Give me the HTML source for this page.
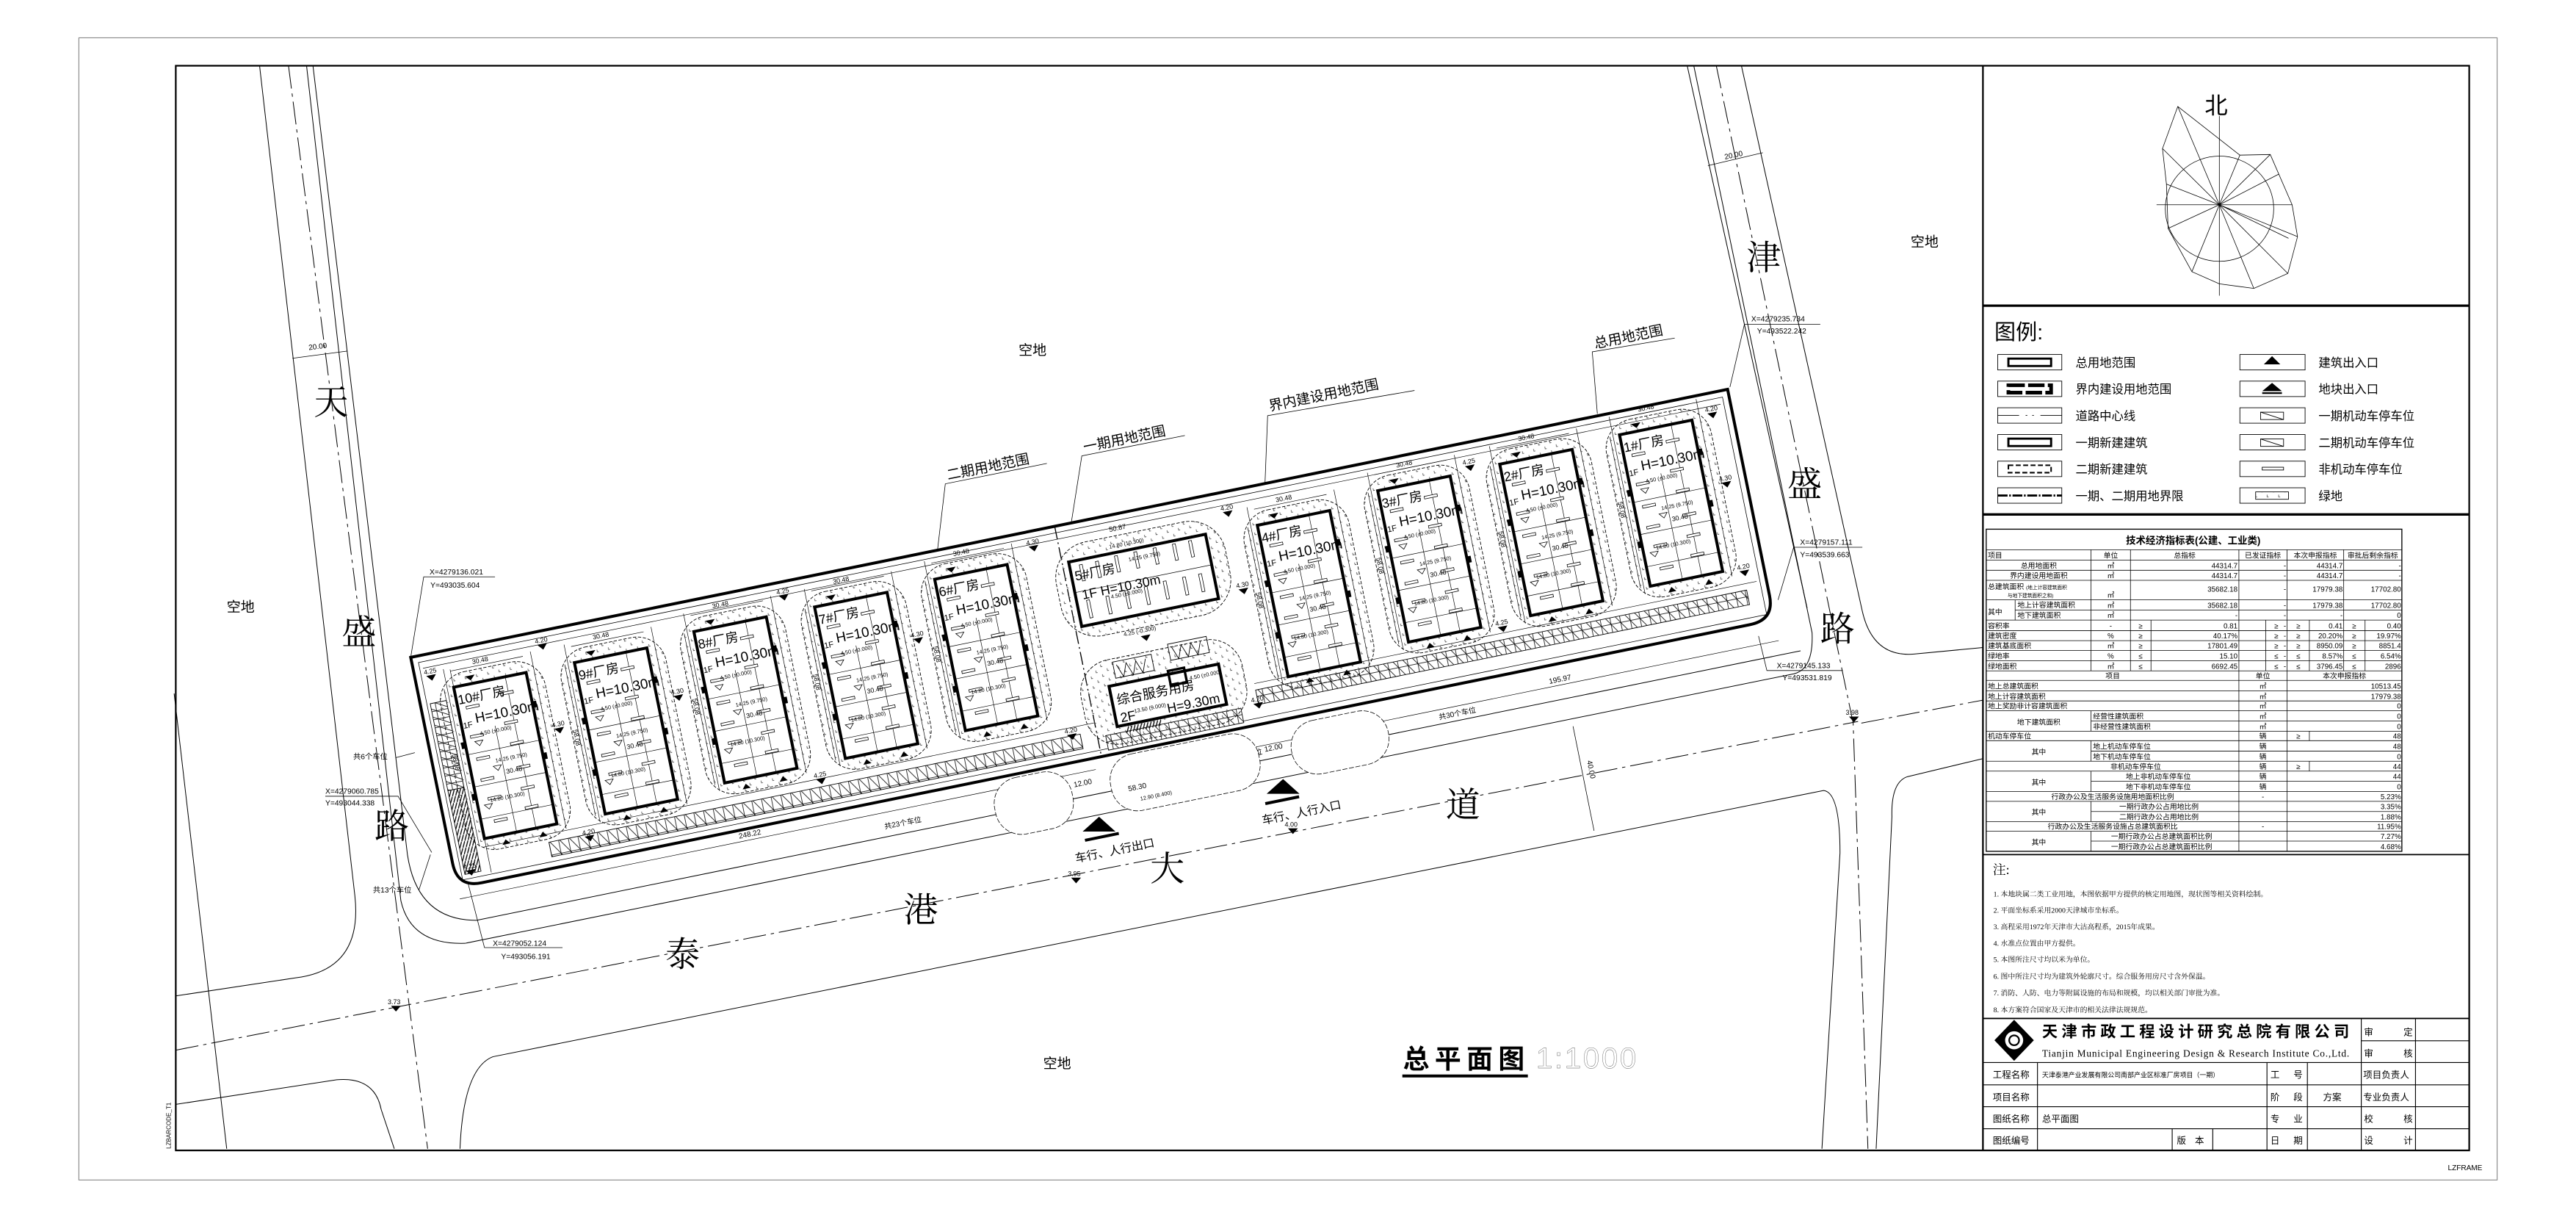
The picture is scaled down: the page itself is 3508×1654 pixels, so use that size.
<!DOCTYPE html>
<html><head><meta charset="utf-8"><style>
html,body{margin:0;padding:0;background:#fff;}
svg{display:block}
text{font-family:"Liberation Sans","Noto Sans CJK SC",sans-serif;fill:#000}
.s{font-family:"Liberation Serif","Noto Serif CJK SC",serif}
</style></head><body>
<svg xmlns="http://www.w3.org/2000/svg" width="3508" height="1654" viewBox="0 0 1568 739.3">
<defs>
<pattern id="grn" width="7" height="6" patternUnits="userSpaceOnUse">
<path d="M1,1 l0,1.4 l0.9,0 M4.5,4 l0,1.3 l0.9,0" stroke="#444" stroke-width="0.35" fill="none"/>
</pattern>
<pattern id="park" width="6" height="9" patternUnits="userSpaceOnUse">
<rect x="0" y="0" width="6" height="9" fill="#fff" stroke="#000" stroke-width="0.35"/>
<path d="M0,0 L6,9" stroke="#000" stroke-width="0.35"/>
</pattern>
<pattern id="parkv" width="9" height="5" patternUnits="userSpaceOnUse">
<rect x="0" y="0" width="9" height="5" fill="#fff" stroke="#000" stroke-width="0.35"/>
<path d="M0,0 L9,5" stroke="#000" stroke-width="0.35"/>
</pattern>
<pattern id="hat" width="2" height="4" patternUnits="userSpaceOnUse">
<path d="M0,4 L2,0" stroke="#000" stroke-width="0.6"/>
</pattern>
<g id="bld">
<rect x="-10" y="-8" width="65" height="110" rx="18" fill="url(#grn)" stroke="#000" stroke-width="0.4" stroke-dasharray="2 1"/>
<rect x="0" y="0" width="45" height="94" fill="#fff" stroke="none"/>
<g stroke="#000" stroke-width="0.3" fill="none">
<line x1="20" y1="28" x2="20" y2="94"/><line x1="32" y1="0" x2="32" y2="94"/>
<line x1="0" y1="42" x2="45" y2="42"/><line x1="0" y1="62" x2="45" y2="62"/><line x1="0" y1="82" x2="45" y2="82"/>
<line x1="0" y1="-10" x2="45" y2="-10"/><line x1="-6" y1="0" x2="-6" y2="94"/>
<line x1="-4" y1="-12" x2="-4" y2="98"/><line x1="50" y1="-12" x2="50" y2="98"/>
</g>
<g fill="#fff" stroke="#000" stroke-width="0.35">
<rect x="5" y="13" width="8" height="1.6"/><rect x="27" y="9" width="8" height="1.6"/>
<rect x="4" y="31" width="8" height="1.6"/><rect x="26" y="27" width="8" height="1.6"/>
<rect x="5" y="45" width="8" height="1.6"/><rect x="27" y="40" width="8" height="1.6"/>
<rect x="5" y="58" width="8" height="1.6"/><rect x="28" y="55" width="8" height="1.6"/>
<rect x="7" y="70" width="8" height="1.6"/><rect x="28" y="68" width="8" height="1.6"/>
<rect x="8" y="84" width="8" height="1.6"/><rect x="28" y="80" width="8" height="1.6"/>
</g>
<rect x="0" y="0" width="45" height="94" fill="none" stroke="#000" stroke-width="1.8"/>
<g fill="#000">
<path d="M8,-5 l6,0 l-3,3z"/><path d="M10,100 l5,0 l-2.5,-3z"/><path d="M33,100 l5,0 l-2.5,-3z"/>
<rect x="-2.5" y="34" width="2.5" height="4"/><rect x="45" y="50" width="2.5" height="4"/><rect x="-2.5" y="66" width="2.5" height="4"/><rect x="45" y="18" width="2.5" height="4"/>
</g>
<g fill="none" stroke="#000" stroke-width="0.35"><path d="M6,35 l5,0 l-2.5,3z M14,52 l5,0 l-2.5,3z M4,74 l5,0 l-2.5,3z"/></g>
</g>
<g id="elv"><path d="M-3,0 l6,0 l-3,3.5z" fill="#000"/></g>
</defs>

<rect x="48" y="23" width="1472" height="695" fill="none" stroke="#888" stroke-width="0.5"/>
<rect x="107" y="40" width="1396" height="660" fill="none" stroke="#000" stroke-width="1"/>
<line x1="1207" y1="40" x2="1207" y2="700" stroke="#000" stroke-width="1"/>
<text x="0" y="0" font-size="3.6" transform="translate(104,699) rotate(-90)">LZBARCODE_T1</text>
<text x="1490" y="712" font-size="4.5">LZFRAME</text>

<g fill="none" stroke="#000" stroke-width="0.45">
<path d="M158,40 L216,545 Q221,590 180,595 L107,606"/>
<path d="M175.6,40 L260.3,699" stroke-dasharray="14 3 2 3"/>
<path d="M186.6,40 L244,548 Q250,575 283,574 L1092,410 Q1104,407 1103,385 L1031,40"/>
<path d="M190.5,40 L248,520 Q254,560 290,560 L1096,396"/>
<path d="M106,422 L138,699"/>
<path d="M107,672 L205,657 Q228,655 232,675 L240,699"/>
<path d="M107,639 L1131,439" stroke-dasharray="14 3 2 3"/>
<path d="M1133,440 L1207,426" stroke-dasharray="14 3 2 3"/>
<path d="M280,699 Q282,650 300,643 L1110,481 Q1120,482 1120,519 L1109,699"/>
<path d="M1027,40 L1100,370"/>
<path d="M1044.7,40 L1128,440 L1137,699" stroke-dasharray="14 3 2 3"/>
<path d="M1060,40 L1133.6,372 Q1140,400 1165,398 L1207,394"/>
<path d="M1207,461.6 L1161,472.6 Q1151,476 1151.6,497 L1142,699"/>
</g>
<g stroke="#000" stroke-width="0.35">
<line x1="178" y1="218" x2="211.5" y2="213.6"/><line x1="1039.6" y1="100.8" x2="1073" y2="92.9"/>
<line x1="957.5" y1="441.9" x2="970.3" y2="505.5"/>
</g>
<text font-size="4.5" transform="translate(188,213) rotate(-7)">20.00</text>
<text font-size="4.5" transform="translate(1050,97) rotate(-12)">20.00</text>
<text font-size="4.5" transform="translate(966,463) rotate(78.5)">40.00</text>
<use href="#elv" x="241" y="612"/><text x="236" y="611" font-size="4">3.73</text>
<use href="#elv" x="1128.5" y="436"/><text x="1123.5" y="435" font-size="4">3.98</text>

<g class="s" font-size="21">
<text class="s" x="191" y="252">天</text><text class="s" x="208" y="392">盛</text><text class="s" x="228" y="510">路</text>
<text class="s" x="1063" y="164">津</text><text class="s" x="1088" y="302">盛</text><text class="s" x="1108" y="390">路</text>
<text class="s" x="405" y="588">泰</text><text class="s" x="550" y="561">港</text><text class="s" x="700" y="536">大</text><text class="s" x="880" y="497">道</text>
</g>
<g font-size="8.5">
<text x="138" y="372">空地</text><text x="620" y="216">空地</text><text x="1163" y="150">空地</text><text x="635" y="650">空地</text>
</g>

<g transform="translate(250,400) rotate(-11.5)">
<path d="M0,0 L818,0 L818,128 Q818,143 803,143 L15,143 Q0,143 0,128 Z" fill="none" stroke="#000" stroke-width="1.8"/>
<path d="M4,4 L814,4 L814,139 L4,139 Z" fill="none" stroke="#000" stroke-width="0.35"/>
<line x1="400" y1="0" x2="400" y2="143" stroke="#000" stroke-width="0.6" stroke-dasharray="8 2 1 2"/>
<g stroke="#000" stroke-width="0.3">
<line x1="6" y1="8" x2="812" y2="8"/><line x1="20" y1="122" x2="400" y2="122"/><line x1="500" y1="118" x2="812" y2="118"/>
<line x1="0" y1="150" x2="395" y2="150"/><line x1="405" y1="156" x2="818" y2="156"/>
<line x1="22" y1="12" x2="22" y2="138"/>
</g>
<rect x="6" y="30" width="10" height="54" fill="url(#parkv)" stroke="#000" stroke-width="0.4"/>
<rect x="6" y="84" width="10" height="52" fill="url(#hat)" stroke="#000" stroke-width="0.4"/>
<rect x="60" y="127" width="330" height="9" fill="url(#park)" stroke="#000" stroke-width="0.4"/>
<rect x="405" y="131" width="84" height="9" fill="url(#park)" stroke="#000" stroke-width="0.4"/>
<rect x="500" y="122" width="305" height="9" fill="url(#park)" stroke="#000" stroke-width="0.4"/>

<g font-size="4">
<g transform="translate(22,23)"><use href="#bld"/><text x="1" y="11" font-size="8">10#厂房</text><text x="1" y="26" font-size="5">1F</text><text x="9" y="24" font-size="8.5">H=10.30m</text><text x="10" y="32" font-size="3.3">4.50 (±0.000)</text><text x="16" y="50" font-size="3.3">14.25 (9.750)</text><text x="21" y="58" font-size="4">30.48</text><text x="8" y="73" font-size="3.3">14.80 (10.300)</text><text x="14" y="-11.5">30.48</text><text transform="translate(-9,40) rotate(90)">58.08</text></g>
<g transform="translate(97,23)"><use href="#bld"/><text x="1" y="11" font-size="8">9#厂房</text><text x="1" y="26" font-size="5">1F</text><text x="9" y="24" font-size="8.5">H=10.30m</text><text x="10" y="32" font-size="3.3">4.50 (±0.000)</text><text x="16" y="50" font-size="3.3">14.25 (9.750)</text><text x="21" y="58" font-size="4">30.48</text><text x="8" y="73" font-size="3.3">14.80 (10.300)</text><text x="14" y="-11.5">30.48</text><text transform="translate(-9,40) rotate(90)">58.08</text></g>
<g transform="translate(172,19)"><use href="#bld"/><text x="1" y="11" font-size="8">8#厂房</text><text x="1" y="26" font-size="5">1F</text><text x="9" y="24" font-size="8.5">H=10.30m</text><text x="10" y="32" font-size="3.3">4.50 (±0.000)</text><text x="16" y="50" font-size="3.3">14.25 (9.750)</text><text x="21" y="58" font-size="4">30.48</text><text x="8" y="73" font-size="3.3">14.80 (10.300)</text><text x="14" y="-11.5">30.48</text><text transform="translate(-9,40) rotate(90)">58.08</text></g>
<g transform="translate(247,19)"><use href="#bld"/><text x="1" y="11" font-size="8">7#厂房</text><text x="1" y="26" font-size="5">1F</text><text x="9" y="24" font-size="8.5">H=10.30m</text><text x="10" y="32" font-size="3.3">4.50 (±0.000)</text><text x="16" y="50" font-size="3.3">14.25 (9.750)</text><text x="21" y="58" font-size="4">30.48</text><text x="8" y="73" font-size="3.3">14.80 (10.300)</text><text x="14" y="-11.5">30.48</text><text transform="translate(-9,40) rotate(90)">58.08</text></g>
<g transform="translate(322,17)"><use href="#bld"/><text x="1" y="11" font-size="8">6#厂房</text><text x="1" y="26" font-size="5">1F</text><text x="9" y="24" font-size="8.5">H=10.30m</text><text x="10" y="32" font-size="3.3">4.50 (±0.000)</text><text x="16" y="50" font-size="3.3">14.25 (9.750)</text><text x="21" y="58" font-size="4">30.48</text><text x="8" y="73" font-size="3.3">14.80 (10.300)</text><text x="14" y="-11.5">30.48</text><text transform="translate(-9,40) rotate(90)">58.08</text></g>
<g transform="translate(521,24)"><use href="#bld"/><text x="1" y="11" font-size="8">4#厂房</text><text x="1" y="26" font-size="5">1F</text><text x="9" y="24" font-size="8.5">H=10.30m</text><text x="10" y="32" font-size="3.3">4.50 (±0.000)</text><text x="16" y="50" font-size="3.3">14.25 (9.750)</text><text x="21" y="58" font-size="4">30.48</text><text x="8" y="73" font-size="3.3">14.80 (10.300)</text><text x="14" y="-11.5">30.48</text><text transform="translate(-9,40) rotate(90)">58.08</text></g>
<g transform="translate(597,18)"><use href="#bld"/><text x="1" y="11" font-size="8">3#厂房</text><text x="1" y="26" font-size="5">1F</text><text x="9" y="24" font-size="8.5">H=10.30m</text><text x="10" y="32" font-size="3.3">4.50 (±0.000)</text><text x="16" y="50" font-size="3.3">14.25 (9.750)</text><text x="21" y="58" font-size="4">30.48</text><text x="8" y="73" font-size="3.3">14.80 (10.300)</text><text x="14" y="-11.5">30.48</text><text transform="translate(-9,40) rotate(90)">58.08</text></g>
<g transform="translate(673,17)"><use href="#bld"/><text x="1" y="11" font-size="8">2#厂房</text><text x="1" y="26" font-size="5">1F</text><text x="9" y="24" font-size="8.5">H=10.30m</text><text x="10" y="32" font-size="3.3">4.50 (±0.000)</text><text x="16" y="50" font-size="3.3">14.25 (9.750)</text><text x="21" y="58" font-size="4">30.48</text><text x="8" y="73" font-size="3.3">14.80 (10.300)</text><text x="14" y="-11.5">30.48</text><text transform="translate(-9,40) rotate(90)">58.08</text></g>
<g transform="translate(748,14)"><use href="#bld"/><text x="1" y="11" font-size="8">1#厂房</text><text x="1" y="26" font-size="5">1F</text><text x="9" y="24" font-size="8.5">H=10.30m</text><text x="10" y="32" font-size="3.3">4.50 (±0.000)</text><text x="16" y="50" font-size="3.3">14.25 (9.750)</text><text x="21" y="58" font-size="4">30.48</text><text x="8" y="73" font-size="3.3">14.80 (10.300)</text><text x="14" y="-11.5">30.48</text><text transform="translate(-9,40) rotate(90)">58.08</text></g>
</g>

<rect x="394" y="13" width="105" height="58" rx="22" fill="url(#grn)" stroke="#000" stroke-width="0.4" stroke-dasharray="2 1"/>
<rect x="404" y="23" width="85" height="40" fill="#fff"/>
<g fill="#fff" stroke="#000" stroke-width="0.35">
<rect x="410" y="26" width="1.8" height="10"/><rect x="420" y="26" width="1.8" height="10"/><rect x="432" y="25" width="1.8" height="10"/><rect x="444" y="25" width="1.8" height="10"/><rect x="456" y="25" width="1.8" height="10"/><rect x="468" y="25" width="1.8" height="10"/><rect x="478" y="25" width="1.8" height="10"/>
<rect x="410" y="48" width="1.8" height="11"/><rect x="422" y="48" width="1.8" height="11"/><rect x="434" y="47" width="1.8" height="11"/><rect x="446" y="47" width="1.8" height="11"/><rect x="458" y="46" width="1.8" height="11"/><rect x="470" y="46" width="1.8" height="11"/><rect x="480" y="46" width="1.8" height="11"/>
</g>
<line x1="404" y1="42" x2="489" y2="42" stroke="#000" stroke-width="0.3"/>
<rect x="404" y="23" width="85" height="40" fill="none" stroke="#000" stroke-width="1.8"/>
<text x="406" y="35" font-size="8">5#厂房</text><text x="408" y="47" font-size="8">1F H=10.30m</text>
<text x="440" y="30" font-size="3.3">14.25 (9.750)</text><text x="430" y="20" font-size="3.3">14.80 (10.300)</text><text x="425" y="50" font-size="3.3">4.50 (±0.000)</text>
<text x="432" y="10" font-size="4.2">50.87</text><text x="428" y="74" font-size="3.5">4.25 (-0.300)</text>
<use href="#elv" x="441" y="76"/>
<rect x="395" y="86" width="100" height="52" rx="20" fill="url(#grn)" stroke="#000" stroke-width="0.4" stroke-dasharray="2 1"/>
<g fill="none" stroke="#000" stroke-width="0.4"><path d="M420,90 l3,8 l3,-8 l3,8 l3,-8 l3,8 l3,-8 M455,86 l3,8 l3,-8 l3,8 l3,-8 l3,8 l3,-8"/><rect x="418" y="88" width="24" height="10"/><rect x="453" y="84" width="24" height="10"/></g>
<rect x="413" y="102" width="68" height="25" fill="#fff" stroke="#000" stroke-width="1.8"/>
<rect x="450" y="100" width="10" height="9" fill="none" stroke="#000" stroke-width="1.5"/>
<rect x="418" y="128" width="22" height="4" fill="url(#hat)"/>
<text x="416" y="114" font-size="8">综合服务用房</text><text x="416" y="125" font-size="8">2F</text><text x="445" y="125" font-size="8">H=9.30m</text>
<text x="462" y="108" font-size="3.3">4.50 (±0.000)</text><text x="425" y="121" font-size="3.3">13.50 (9.000)</text>

<g font-size="4">
<use href="#elv" x="10" y="13"/><text x="6" y="12">4.25</text>
<use href="#elv" x="80" y="8"/><text x="76" y="7">4.20</text>
<use href="#elv" x="10" y="134"/><text x="6" y="133">4.25</text>
<use href="#elv" x="85" y="128"/><text x="81" y="127">4.20</text>
<use href="#elv" x="80" y="60"/><text x="76" y="59">4.30</text>
<use href="#elv" x="155" y="55"/><text x="151" y="54">4.30</text>
<use href="#elv" x="230" y="8"/><text x="226" y="7">4.25</text>
<use href="#elv" x="230" y="122"/><text x="226" y="121">4.25</text>
<use href="#elv" x="305" y="50"/><text x="301" y="49">4.30</text>
<use href="#elv" x="385" y="9"/><text x="381" y="8">4.30</text>
<use href="#elv" x="385" y="126"/><text x="381" y="125">4.20</text>
<use href="#elv" x="505" y="12"/><text x="501" y="11">4.20</text>
<use href="#elv" x="505" y="60"/><text x="501" y="59">4.30</text>
<use href="#elv" x="500" y="130"/><text x="496" y="129">4.20</text>
<use href="#elv" x="655" y="14"/><text x="651" y="13">4.25</text>
<use href="#elv" x="655" y="114"/><text x="651" y="113">4.25</text>
<use href="#elv" x="806" y="12"/><text x="802" y="11">4.20</text>
<use href="#elv" x="806" y="55"/><text x="802" y="54">4.30</text>
<use href="#elv" x="806" y="110"/><text x="802" y="109">4.20</text>
</g>
<text x="174" y="148" font-size="4.5">248.22</text>
<text x="676" y="154" font-size="4.5">195.97</text>
<text x="262" y="160" font-size="4.5">共23个车位</text>
<text x="476" y="161" font-size="4.5">共8个车位</text>
<text x="606" y="162" font-size="4.5">共30个车位</text>
<text x="380" y="158" font-size="4.5">12.00</text>
<text x="498" y="160" font-size="4.5">12.00</text>
<g fill="#fff" stroke="#000" stroke-width="0.35" stroke-dasharray="3 1">
<rect x="330" y="145" width="48" height="35" rx="16"/><rect x="402" y="145" width="92" height="35" rx="16"/><rect x="514" y="147" width="60" height="33" rx="16"/>
</g>
<text x="412" y="167" font-size="4.5">58.30</text><text x="418" y="174" font-size="3.3">12.90 (8.400)</text>
<rect x="380" y="190" width="21" height="1.8" fill="#000"/>
<text x="372" y="203" font-size="7">车行、人行出口</text>
<rect x="492" y="190" width="21" height="1.8" fill="#000"/>
<text x="488" y="203" font-size="7">车行、人行入口</text>
</g>
<path d="M669,497 l-10,9 l20,0z" fill="#000"/>
<path d="M781,474 l-10,9 l20,0z" fill="#000"/>
<use href="#elv" x="655" y="534"/><text x="650" y="533" font-size="4">3.95</text>
<use href="#elv" x="787" y="504"/><text x="782" y="503" font-size="4">4.00</text>

<g fill="none" stroke="#000" stroke-width="0.35">
<path d="M570.7,334.3 L575.4,294.4 L637.2,282"/>
<path d="M652.2,317.3 L658.5,277.4 L721.2,265"/>
<path d="M770,294 L771.6,252.9 L861,237.6"/>
<path d="M972.3,251.8 L969.2,214.1 L1019.4,205.7"/>
<path d="M250,400 L257.9,351 L301.3,351"/>
<path d="M262.8,518.7 L242.3,484.5 L198,484.5"/>
<path d="M284.6,536.3 L294.9,576.6 L342.4,576.6"/>
<path d="M1053,235.5 L1061.8,197.4 L1108,197.4"/>
<path d="M1082.3,365 L1091.8,333 L1133.6,333"/>
<path d="M1070.4,387 L1075.5,408 L1121.7,408"/>
<path d="M252.5,458 L241,461"/><path d="M262,520 L255,541.5"/>
</g>
<g font-size="8.5">
<text transform="translate(577,292) rotate(-11.5)">二期用地范围</text>
<text transform="translate(660,275) rotate(-11.5)">一期用地范围</text>
<text transform="translate(773,250) rotate(-11.5)">界内建设用地范围</text>
<text transform="translate(971,212) rotate(-11.5)">总用地范围</text>
</g>
<g font-size="4.6">
<text x="261.5" y="349.5">X=4279136.021</text><text x="262" y="357.5">Y=493035.604</text>
<text x="198" y="483">X=4279060.785</text><text x="198" y="490">Y=493044.338</text>
<text x="300" y="575.5">X=4279052.124</text><text x="305" y="583.5">Y=493056.191</text>
<text x="1066" y="195.5">X=4279235.734</text><text x="1069.5" y="203">Y=493522.242</text>
<text x="1095.7" y="331.5">X=4279157.111</text><text x="1095.7" y="339">Y=493539.663</text>
<text x="1081.5" y="406.5">X=4279145.133</text><text x="1085" y="414">Y=493531.819</text>
<text x="215" y="462">共6个车位</text><text x="227" y="543">共13个车位</text>
</g>

<text x="854" y="650" font-size="16" textLength="74" font-weight="bold">总平面图</text>
<rect x="853.6" y="653.8" width="76.4" height="1.8" fill="#000"/>
<text x="935" y="650" font-size="18" fill="none" stroke="#555" stroke-width="0.18" textLength="61" style="fill:none">1:1000</text>

<g fill="none" stroke="#000" stroke-width="0.35">
<polygon points="1325.6,64.8 1363.4,94.4 1381.9,94 1395.2,124.6 1398.5,144 1392.6,166.4 1371.9,175.5 1350.9,172.7 1334.2,165.3 1319.7,139 1318.7,112 1316.3,90.4"/>
<ellipse cx="1351" cy="127" rx="33" ry="32"/>
<line x1="1350.9" y1="70.6" x2="1350.9" y2="179.9"/><line x1="1312.7" y1="124.6" x2="1395.2" y2="124.6"/>
<path d="M1350.9,124.6 L1325.6,64.8 M1350.9,124.6 L1363.4,94.4 M1350.9,124.6 L1381.9,94 M1350.9,124.6 L1398.5,144 M1350.9,124.6 L1392.6,166.4 M1350.9,124.6 L1371.9,175.5 M1350.9,124.6 L1334.2,165.3 M1350.9,124.6 L1319.7,139 M1350.9,124.6 L1318.7,112 M1350.9,124.6 L1316.3,90.4 M1350.9,124.6 L1387,106 M1350.9,124.6 L1393,145"/>
</g>
<text x="1342" y="69" font-size="14">北</text>
<line x1="1207" y1="186" x2="1503" y2="186" stroke="#000" stroke-width="1.5"/>

<text x="1214" y="206.5" font-size="13">图例:</text>
<g fill="none" stroke="#000" stroke-width="0.4">
<rect x="1216" y="215.7" width="39" height="9.4"/><rect x="1216" y="231.9" width="39" height="9.4"/><rect x="1216" y="248.1" width="39" height="9.4"/><rect x="1216" y="264.4" width="39" height="9.4"/><rect x="1216" y="280.6" width="39" height="9.4"/><rect x="1216" y="296.8" width="39" height="9.4"/>
<rect x="1363.4" y="215.7" width="39.7" height="9.4"/><rect x="1363.4" y="231.9" width="39.7" height="9.4"/><rect x="1363.4" y="248.1" width="39.7" height="9.4"/><rect x="1363.4" y="264.4" width="39.7" height="9.4"/><rect x="1363.4" y="280.6" width="39.7" height="9.4"/><rect x="1363.4" y="296.8" width="39.7" height="9.4"/>
<rect x="1222.5" y="218.2" width="26" height="4.5" stroke-width="1.3"/>
<rect x="1222.5" y="234.4" width="26" height="4.5" stroke-width="2.2" stroke-dasharray="10 2"/>
<path d="M1216,252.8 h13 M1233,252.8 h1 M1237,252.8 h1 M1242,252.8 h13"/>
<rect x="1222.5" y="266.9" width="26" height="4.5" stroke-width="1.3"/>
<rect x="1222.5" y="283.1" width="26" height="4.5" stroke-width="0.9" stroke-dasharray="3 1.5"/>
<path d="M1216,301.5 h39" stroke-width="1.3" stroke-dasharray="6 1 1 1"/>
<rect x="1376" y="250.8" width="14" height="4.5"/><path d="M1376,250.8 L1390,255.3"/>
<rect x="1376" y="267.1" width="14" height="4.5"/><path d="M1376,267.1 L1390,271.6"/>
<rect x="1377" y="284.3" width="13" height="1.7"/>
<rect x="1373" y="299.3" width="20" height="4.5" fill="url(#grn)"/>
</g>
<path d="M1383,216.7 l-5,5 l10,0z M1383,233 l-6,5 l12,0z" fill="#000"/>
<rect x="1377" y="238.7" width="12" height="1" fill="#000"/>
<g font-size="7.3" fill="#222">
<text x="1263.4" y="223.2">总用地范围</text><text x="1263.4" y="239.4">界内建设用地范围</text><text x="1263.4" y="255.6">道路中心线</text><text x="1263.4" y="271.9">一期新建建筑</text><text x="1263.4" y="288.1">二期新建建筑</text><text x="1263.4" y="304.3">一期、二期用地界限</text>
<text x="1411.3" y="223.2">建筑出入口</text><text x="1411.3" y="239.4">地块出入口</text><text x="1411.3" y="255.6">一期机动车停车位</text><text x="1411.3" y="271.9">二期机动车停车位</text><text x="1411.3" y="288.1">非机动车停车位</text><text x="1411.3" y="304.3">绿地</text>
</g>
<line x1="1207" y1="313" x2="1503" y2="313" stroke="#000" stroke-width="1.5"/>

<g stroke="#000" stroke-width="0.35" fill="none">
<rect x="1209" y="322" width="253" height="196" stroke-width="0.6"/>
<path d="M1209,334.5 H1462 M1209,340.8 H1462 M1209,347 H1462 M1209,353.1 H1462 M1209,365 H1462 M1226.6,371.2 H1462 M1209,377.3 H1462 M1209,383.7 H1462 M1209,389.8 H1462 M1209,395.8 H1462 M1209,402 H1462 M1209,408.2 H1462 M1209,414 H1462 M1209,420.4 H1462 M1209,426.5 H1462 M1209,432.5 H1462 M1272.8,438.7 H1462 M1209,444.9 H1462 M1209,450.7 H1462 M1272.8,457 H1462 M1209,463.2 H1462 M1209,469.2 H1462 M1272.8,475.4 H1462 M1209,481.6 H1462 M1209,487.6 H1462 M1272.8,493.8 H1462 M1209,499.9 H1462 M1209,505.8 H1462 M1272.8,511.8 H1462"/>
<path d="M1272.8,334.5 V408.2 M1296.8,334.5 V408.2 M1362.8,334.5 V518 M1392.1,334.5 V518 M1426.6,334.5 V408.2 M1309.3,377.3 V408.2 M1379.1,377.3 V408.2 M1405.7,377.3 V408.2 M1439.6,377.3 V408.2 M1226.6,365 V377.3 M1272.8,432.5 V444.9 M1272.8,450.7 V463.2 M1272.8,469.2 V481.6 M1272.8,487.6 V499.9 M1272.8,505.8 V518 M1405.7,444.9 V450.7 M1405.7,463.2 V469.2"/>
</g>
<text x="1335" y="331" font-size="6" text-anchor="middle" font-weight="bold">技术经济指标表(公建、工业类)</text>
<g font-size="4.4" fill="#222">
<text x="1210" y="339.5">项目</text><text x="1284.8" y="339.5" text-anchor="middle">单位</text><text x="1329.8" y="339.5" text-anchor="middle">总指标</text><text x="1377.4" y="339.5" text-anchor="middle">已发证指标</text><text x="1409.3" y="339.5" text-anchor="middle">本次申报指标</text><text x="1444.3" y="339.5" text-anchor="middle">审批后剩余指标</text>
<text x="1241" y="345.7" text-anchor="middle">总用地面积</text><text x="1241" y="351.8" text-anchor="middle">界内建设用地面积</text>
<text x="1210" y="358.5">总建筑面积 <tspan font-size="3">(地上计容建筑面积</tspan></text><text x="1222" y="363.5" font-size="3">与地下建筑面积之和)</text>
<text x="1210" y="374">其中</text><text x="1228" y="369.7">地上计容建筑面积</text><text x="1228" y="376">地下建筑面积</text>
<text x="1210" y="382.4">容积率</text><text x="1210" y="388.5">建筑密度</text><text x="1210" y="394.5">建筑基底面积</text><text x="1210" y="400.7">绿地率</text><text x="1210" y="406.9">绿地面积</text>
<g text-anchor="middle"><text x="1284.8" y="345.7">㎡</text><text x="1284.8" y="351.8">㎡</text><text x="1284.8" y="363.7">㎡</text><text x="1284.8" y="369.9">㎡</text><text x="1284.8" y="376">㎡</text><text x="1284.8" y="382.4">-</text><text x="1284.8" y="388.5">%</text><text x="1284.8" y="394.5">㎡</text><text x="1284.8" y="400.7">%</text><text x="1284.8" y="406.9">㎡</text></g>
<g text-anchor="end">
<text x="1362" y="345.7">44314.7</text><text x="1391.5" y="345.7">-</text><text x="1426" y="345.7">44314.7</text><text x="1461.5" y="345.7">-</text>
<text x="1362" y="351.8">44314.7</text><text x="1391.5" y="351.8">-</text><text x="1426" y="351.8">44314.7</text><text x="1461.5" y="351.8">-</text>
<text x="1362" y="360">35682.18</text><text x="1391.5" y="360">-</text><text x="1426" y="360">17979.38</text><text x="1461.5" y="360">17702.80</text>
<text x="1362" y="369.9">35682.18</text><text x="1391.5" y="369.9">-</text><text x="1426" y="369.9">17979.38</text><text x="1461.5" y="369.9">17702.80</text>
<text x="1362" y="376">-</text><text x="1391.5" y="376">-</text><text x="1426" y="376">-</text><text x="1461.5" y="376">0</text>
<text x="1362" y="382.4">0.81</text><text x="1391.5" y="382.4">-</text><text x="1426" y="382.4">0.41</text><text x="1461.5" y="382.4">0.40</text>
<text x="1362" y="388.5">40.17%</text><text x="1391.5" y="388.5">-</text><text x="1426" y="388.5">20.20%</text><text x="1461.5" y="388.5">19.97%</text>
<text x="1362" y="394.5">17801.49</text><text x="1391.5" y="394.5">-</text><text x="1426" y="394.5">8950.09</text><text x="1461.5" y="394.5">8851.4</text>
<text x="1362" y="400.7">15.10</text><text x="1391.5" y="400.7">-</text><text x="1426" y="400.7">8.57%</text><text x="1461.5" y="400.7">6.54%</text>
<text x="1362" y="406.9">6692.45</text><text x="1391.5" y="406.9">-</text><text x="1426" y="406.9">3796.45</text><text x="1461.5" y="406.9">2896</text>
</g>
<g text-anchor="middle">
<text x="1303" y="382.4">≥</text><text x="1385.6" y="382.4">≥</text><text x="1399" y="382.4">≥</text><text x="1433" y="382.4">≥</text>
<text x="1303" y="388.5">≥</text><text x="1385.6" y="388.5">≥</text><text x="1399" y="388.5">≥</text><text x="1433" y="388.5">≥</text>
<text x="1303" y="394.5">≥</text><text x="1385.6" y="394.5">≥</text><text x="1399" y="394.5">≥</text><text x="1433" y="394.5">≥</text>
<text x="1303" y="400.7">≤</text><text x="1385.6" y="400.7">≤</text><text x="1399" y="400.7">≤</text><text x="1433" y="400.7">≤</text>
<text x="1303" y="406.9">≤</text><text x="1385.6" y="406.9">≤</text><text x="1399" y="406.9">≤</text><text x="1433" y="406.9">≤</text>
<text x="1286" y="412.7">项目</text><text x="1377.4" y="412.7">单位</text><text x="1427" y="412.7">本次申报指标</text>
<text x="1377.4" y="419.1">㎡</text><text x="1377.4" y="425.2">㎡</text><text x="1377.4" y="431.2">㎡</text><text x="1377.4" y="437.4">㎡</text><text x="1377.4" y="443.6">㎡</text>
<text x="1377.4" y="449.4">辆</text><text x="1377.4" y="455.7">辆</text><text x="1377.4" y="461.9">辆</text><text x="1377.4" y="467.9">辆</text><text x="1377.4" y="474.1">辆</text><text x="1377.4" y="480.3">辆</text>
<text x="1377.4" y="486.3">-</text><text x="1377.4" y="504.5">-</text>
<text x="1399" y="449.4">≥</text><text x="1399" y="467.9">≥</text>
<text x="1241" y="441">地下建筑面积</text><text x="1241" y="459">其中</text><text x="1241" y="477.5">其中</text><text x="1241" y="495.8">其中</text><text x="1241" y="514">其中</text>
<text x="1286" y="486.3">行政办公及生活服务设施用地面积比例</text><text x="1286" y="504.5">行政办公及生活服务设施占总建筑面积比</text>
<text x="1300" y="467.9">非机动车停车位</text>
</g>
<text x="1210" y="419.1">地上总建筑面积</text><text x="1210" y="425.2">地上计容建筑面积</text><text x="1210" y="431.2">地上奖励非计容建筑面积</text>
<text x="1274" y="437.4">经营性建筑面积</text><text x="1274" y="443.6">非经营性建筑面积</text>
<text x="1210" y="449.4">机动车停车位</text><text x="1274" y="455.7">地上机动车停车位</text><text x="1274" y="461.9">地下机动车停车位</text>
<text x="1294" y="474.1">地上非机动车停车位</text><text x="1294" y="480.3">地下非机动车停车位</text>
<text x="1290" y="492.3">一期行政办公占用地比例</text><text x="1290" y="498.5">二期行政办公占用地比例</text>
<text x="1285" y="510.5">一期行政办公占总建筑面积比例</text><text x="1285" y="516.7">一期行政办公占总建筑面积比例</text>
<g text-anchor="end">
<text x="1461.5" y="419.1">10513.45</text><text x="1461.5" y="425.2">17979.38</text><text x="1461.5" y="431.2">0</text><text x="1461.5" y="437.4">0</text><text x="1461.5" y="443.6">0</text>
<text x="1461.5" y="449.4">48</text><text x="1461.5" y="455.7">48</text><text x="1461.5" y="461.9">0</text><text x="1461.5" y="467.9">44</text><text x="1461.5" y="474.1">44</text><text x="1461.5" y="480.3">0</text>
<text x="1461.5" y="486.3">5.23%</text><text x="1461.5" y="492.3">3.35%</text><text x="1461.5" y="498.5">1.88%</text><text x="1461.5" y="504.5">11.95%</text><text x="1461.5" y="510.5">7.27%</text><text x="1461.5" y="516.7">4.68%</text>
</g>
</g>
<line x1="1207" y1="520" x2="1503" y2="520" stroke="#000" stroke-width="0.8"/>

<text x="1213" y="532" font-size="8" class="s">注:</text>
<g font-size="4.4" fill="#333" class="s">
<text class="s" x="1213.4" y="545.5">1. 本地块属二类工业用地，本图依据甲方提供的核定用地图，现状图等相关资料绘制。</text>
<text class="s" x="1213.4" y="555.4">2. 平面坐标系采用2000天津城市坐标系。</text>
<text class="s" x="1213.4" y="565.5">3. 高程采用1972年天津市大沽高程系，2015年成果。</text>
<text class="s" x="1213.4" y="575.4">4. 水准点位置由甲方提供。</text>
<text class="s" x="1213.4" y="585.4">5. 本图所注尺寸均以米为单位。</text>
<text class="s" x="1213.4" y="595.5">6. 图中所注尺寸均为建筑外轮廓尺寸。综合服务用房尺寸含外保温。</text>
<text class="s" x="1213.4" y="605.6">7. 消防、人防、电力等附属设施的布局和规模，均以相关部门审批为准。</text>
<text class="s" x="1213.4" y="616">8. 本方案符合国家及天津市的相关法律法规规范。</text>
</g>

<g stroke="#000" fill="none" stroke-width="0.5">
<line x1="1207" y1="619.7" x2="1503" y2="619.7" stroke-width="0.8"/>
<path d="M1437.3,633.3 H1503 M1207,646.5 H1503 M1207,660.1 H1503 M1207,673.4 H1503 M1207,686.8 H1503"/>
<path d="M1240.2,646.5 V700 M1379.9,646.5 V700 M1404.5,646.5 V700 M1437.3,619.7 V700 M1470.3,619.7 V700 M1322.2,686.8 V700 M1346.9,686.8 V700"/>
</g>
<path d="M1226,620.5 L1238,633 L1226,645.5 L1214,633 Z" fill="#000"/>
<circle cx="1226" cy="633" r="5.5" fill="#fff"/><circle cx="1226" cy="633" r="3" fill="none" stroke="#000" stroke-width="1"/>
<text x="1243" y="631" font-size="9.5" font-weight="bold" textLength="187">天津市政工程设计研究总院有限公司</text>
<text class="s" x="1243" y="643" font-size="6" textLength="187">Tianjin Municipal Engineering Design &amp; Research Institute Co.,Ltd.</text>
<g font-size="5.6">
<text x="1439" y="630">审</text><text x="1463" y="630">定</text><text x="1439" y="643">审</text><text x="1463" y="643">核</text>
<text x="1213" y="656">工程名称</text><text x="1213" y="669.5">项目名称</text><text x="1213" y="682.8">图纸名称</text><text x="1213" y="696">图纸编号</text>
<text x="1382" y="656">工</text><text x="1396" y="656">号</text><text x="1382" y="669.5">阶</text><text x="1396" y="669.5">段</text><text x="1382" y="682.8">专</text><text x="1396" y="682.8">业</text><text x="1382" y="696">日</text><text x="1396" y="696">期</text>
<text x="1414" y="669.5">方案</text>
<text x="1438.5" y="656">项目负责人</text><text x="1438.5" y="669.5">专业负责人</text><text x="1439" y="682.8">校</text><text x="1463" y="682.8">核</text><text x="1439" y="696">设</text><text x="1463" y="696">计</text>
<text x="1325" y="696">版</text><text x="1336" y="696">本</text>
<text x="1243" y="682.8">总平面图</text>
</g>
<text x="1243" y="655.5" font-size="4">天津泰港产业发展有限公司南部产业区标准厂房项目（一期）</text>
</svg>
</body></html>
